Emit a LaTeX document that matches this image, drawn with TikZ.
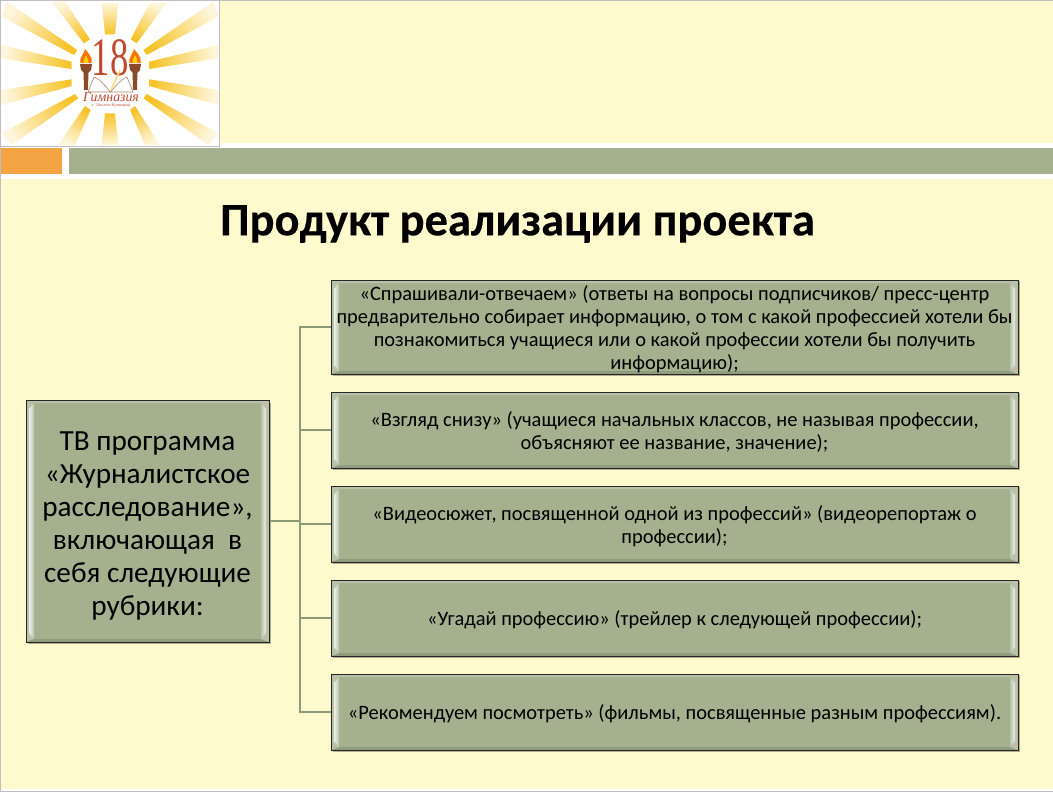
\documentclass[tikz,border=0pt]{standalone}
\usepackage{fontspec}
\setmainfont{Carlito}
\newfontfamily\logoserif{Liberation Serif}
\newfontfamily\titlefont[UprightFont={Carlito Bold},UprightFeatures={FakeBold=0.3}]{Carlito}
\usetikzlibrary{calc,shadows,fadings,positioning}
\definecolor{cream}{HTML}{FFF9CE}
\definecolor{sage}{HTML}{A5B08F}
\definecolor{sageline}{HTML}{8C9A78}
\definecolor{barorange}{HTML}{F4A442}
\definecolor{rayin}{HTML}{F6C42A}
\definecolor{rayout}{HTML}{FEF6DC}
\definecolor{logored}{HTML}{C0492F}
\definecolor{torch}{HTML}{8A4B2A}
\tikzset{
  panel/.style={draw=black!85,line width=1pt,fill=sage,inner sep=0pt,align=flush center,text=black,
    path picture={
      \coordinate (nw) at (path picture bounding box.north west);
      \coordinate (ne) at (path picture bounding box.north east);
      \coordinate (sw) at (path picture bounding box.south west);
      \coordinate (se) at (path picture bounding box.south east);
      \fill[black!12!sage] (sw) -- (se) -- ($(se)+(-8pt,3pt)$) -- ($(sw)+(8pt,3pt)$) -- cycle;
      \fill[white!22!sage] (nw) -- (ne) -- ($(ne)+(-8pt,-3pt)$) -- ($(nw)+(8pt,-3pt)$) -- cycle;
      \fill[white!22!sage] (nw) -- ($(nw)+(8pt,-3pt)$) -- ($(sw)+(8pt,3pt)$) -- (sw) -- cycle;
      \fill[white!22!sage] (ne) -- ($(ne)+(-8pt,-3pt)$) -- ($(se)+(-8pt,3pt)$) -- (se) -- cycle;
      \shade[left color=white!82!sage,right color=white!22!sage] ($(nw)+(3pt,-9pt)$) -- ($(nw)+(8pt,-3pt)$) -- ($(sw)+(8pt,3pt)$) -- ($(sw)+(3pt,9pt)$) -- cycle;
      \shade[right color=white!82!sage,left color=white!22!sage] ($(ne)+(-3pt,-9pt)$) -- ($(ne)+(-8pt,-3pt)$) -- ($(se)+(-8pt,3pt)$) -- ($(se)+(-3pt,9pt)$) -- cycle;
    }},
  rightpanel/.style={panel,font=\fontsize{20.45}{22.8}\selectfont,execute at begin node={\rule{0pt}{19pt}}},
  leftpanel/.style={panel,font=\fontsize{29.2}{33}\selectfont,execute at begin node={\rule{0pt}{28pt}}},
  under/.style={fill=black,opacity=.3},
  wire/.style={draw=sageline,line width=1.7pt},
  trunk/.style={draw=sageline,line width=2.6pt},
  raysh/.style={shading=axis,bottom color=rayin,top color=rayout},
}
\newcommand{\logoray}[9]{\shade[raysh,shading angle=#9] (#1/3,#2/3) -- (#3/3,#4/3) -- (#5/3,#6/3) -- (#7/3,#8/3) -- cycle;}
\begin{document}
\begin{tikzpicture}[x=1pt,y=-1pt]
\useasboundingbox (0,0) rectangle (1053,792);
% slide
\fill[white] (0,0) rectangle (1053,792);
\fill[cream] (1,1) rectangle (1053,143);
\fill[cream] (1,179) rectangle (1053,789);
\fill[barorange] (1,148) rectangle (62,174);
\fill[sage] (69,148) rectangle (1053,174);
\draw[black!25,line width=1pt] (0.5,792) -- (0.5,0.5) -- (1053,0.5);
\draw[black!25,line width=1pt] (0,791.5) -- (1053,791.5);
% logo
\begin{scope}
\fill[white] (1,1) rectangle (219,146);
\draw[black!25,line width=.8pt] (219.5,1) -- (219.5,146.5) -- (1,146.5);
\clip (1,1) rectangle (219,146);
\logoray{232}{150}{222}{165}{5}{50}{20}{5}{57}
\logoray{270}{118}{252}{130}{155}{5}{195}{5}{30}
\logoray{315}{103}{345}{103}{355}{8}{305}{8}{0}
\logoray{392}{118}{410}{130}{500}{8}{450}{8}{-30}
\logoray{430}{150}{440}{165}{655}{50}{640}{5}{-57}
\logoray{215}{185}{215}{207}{5}{175}{5}{135}{80}
\logoray{447}{185}{447}{207}{655}{175}{655}{135}{-80}
\logoray{215}{238}{215}{258}{5}{315}{5}{270}{100}
\logoray{447}{238}{447}{258}{655}{315}{655}{270}{-100}
\logoray{225}{282}{235}{295}{35}{435}{5}{400}{125}
\logoray{440}{282}{430}{295}{625}{435}{655}{400}{-125}
\logoray{255}{318}{272}{330}{225}{435}{175}{435}{150}
\logoray{315}{340}{345}{340}{355}{435}{305}{435}{180}
\logoray{390}{330}{405}{318}{480}{435}{435}{435}{-150}
\end{scope}
% torches
\foreach \tx in {86,135}{
  \fill[torch] (\tx-2.5,70) -- (\tx+2.5,70) -- (\tx+2,90) -- (\tx-2,90) -- cycle;
  \fill[torch] (\tx-6,64) -- (\tx+6,64) -- (\tx+5,70) -- (\tx+2,73) -- (\tx-2,73) -- (\tx-5,70) -- cycle;
  \fill[orange!90!red] (\tx-5.5,63) .. controls (\tx-7,58) and (\tx-2,54) .. (\tx-1,49) .. controls (\tx+2,53) and (\tx+7,57) .. (\tx+5.5,63) -- cycle;
  \fill[yellow!70!orange] (\tx-2.5,63) .. controls (\tx-3,60) and (\tx-1,58) .. (\tx,55) .. controls (\tx+1,58) and (\tx+3,60) .. (\tx+2.5,63) -- cycle;
}
\node[font=\logoserif\fontsize{54}{54}\selectfont,text=logored,inner sep=0pt,xscale=.68] (eighteen) at (110,58) {18};
% book
\fill[white,draw=torch!70,line width=.6pt] (110.5,92) .. controls (104,84) and (98,78) .. (94,77) -- (88,92) -- cycle;
\fill[white,draw=torch!70,line width=.6pt] (110.5,92) .. controls (117,84) and (123,78) .. (127,77) -- (133,92) -- cycle;
\draw[rayin!60!white,line width=1.6pt] (111,90) -- (120,70);
\node[font=\logoserif\itshape\fontsize{13.8}{14}\selectfont,text=logored,inner sep=0pt] (gym) at (111,97) {Гимназия};
\node[font=\logoserif\itshape\fontsize{4.2}{5}\selectfont,text=logored,inner sep=0pt] (city) at (111,105) {г. Ленинск-Кузнецкий};
% title
\node[font=\titlefont\fontsize{46.5}{50}\selectfont,text=black,inner sep=0pt] (title) at (517.5,224) {Продукт реализации проекта};
% soft shadows under the panels
\fill[under] (28,403) rectangle (271,644);
\foreach \ya/\yb in {281/376,393/470,487/564,581/658,675/752}{\fill[under] (333,\ya) rectangle (1020,\yb);}
% boxes
\node[leftpanel,minimum width=243pt,minimum height=242pt,text width=236pt] (main) at (147.5,521) {ТВ программа\\«Журналистское\\расследование»,\\включающая\ \ в\\себя следующие\\рубрики:};
\node[rightpanel,minimum width=687pt,minimum height=94pt,text width=684pt] (r1) at (674.5,327) {«Спрашивали-отвечаем» (ответы на вопросы подписчиков/ пресс-центр\\предварительно собирает информацию, о том с какой профессией хотели бы\\познакомиться учащиеся или о какой профессии хотели бы получить\\информацию);};
\node[rightpanel,minimum width=687pt,minimum height=76pt,text width=684pt] (r2) at (674.5,430) {«Взгляд снизу» (учащиеся начальных классов, не называя профессии,\\объясняют ее название, значение);};
\node[rightpanel,minimum width=687pt,minimum height=76pt,text width=684pt] (r3) at (674.5,524) {«Видеосюжет, посвященной одной из профессий» (видеорепортаж о\\профессии);};
\node[rightpanel,minimum width=687pt,minimum height=76pt,text width=684pt] (r4) at (674.5,618) {«Угадай профессию» (трейлер к следующей профессии);};
\node[rightpanel,minimum width=687pt,minimum height=76pt,text width=684pt] (r5) at (674.5,712) {«Рекомендуем посмотреть» (фильмы, посвященные разным профессиям).};
% connectors
\coordinate (bus) at (300,521);
\draw[trunk] (main.east) -- (bus);
\draw[wire] (bus) |- (r1.west);
\draw[wire] (bus) |- (r2.west);
\draw[wire] (bus) |- (r3.west);
\draw[wire] (bus) |- (r4.west);
\draw[wire] (bus) |- (r5.west);
\end{tikzpicture}
\end{document}
